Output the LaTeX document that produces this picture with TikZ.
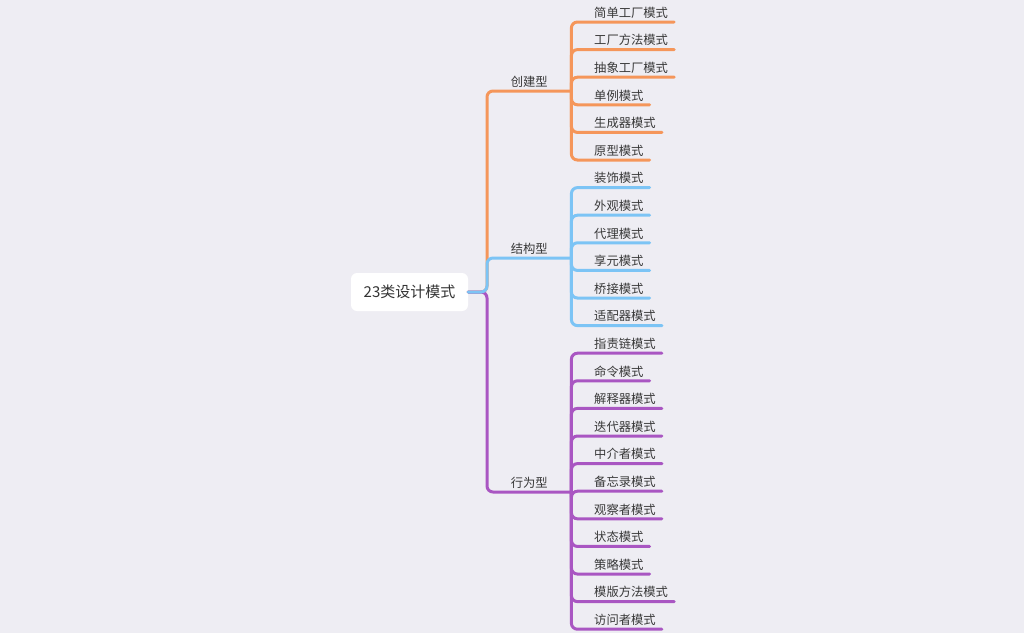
\documentclass[tikz,border=0pt]{standalone}
\usepackage{fontspec}
\setmainfont{Noto Sans CJK SC}
\begin{document}
\begin{tikzpicture}[x=1pt,y=-1pt,
  txt/.style={text=black!78, font=\fontsize{12.3}{14}\selectfont},
  leaf/.style={txt, anchor=south west, inner xsep=6pt, inner ysep=3.5pt},
  cat/.style={txt, anchor=south west, minimum width=84pt, inner xsep=0pt, inner ysep=3.5pt},
  wire/.style={line width=3pt, line cap=round, rounded corners=6pt},
  orangeW/.style={wire, draw=cOrange},
  blueW/.style={wire, draw=cBlue},
  purpleW/.style={wire, draw=cPurple}]
\definecolor{cBg}{HTML}{EEEDF3}
\definecolor{cOrange}{HTML}{F5965A}
\definecolor{cBlue}{HTML}{7CC4F5}
\definecolor{cPurple}{HTML}{A956C2}
\fill[cBg] (0,0) rectangle (1024,633);
\useasboundingbox (0,0) rectangle (1024,633);

% root
\node[fill=white, rounded corners=6pt, minimum width=117pt, minimum height=38pt,
      text=black!80, font=\fontsize{15}{18}\selectfont] (root) at (409.5,292) {23类设计模式};
\coordinate (trunk) at (487,292);

% categories
\node[cat] (c1) at (487,91) {创建型};
\node[cat] (c2) at (487,258) {结构型};
\node[cat] (c3) at (487,492) {行为型};

\draw[orangeW] (root.east) -- (trunk) |- (c1.south east);
\draw[purpleW] (root.east) -- (trunk) |- (c3.south east);
\draw[blueW] (root.east) -- (trunk) |- (c2.south east);

% leaves
\foreach \t [count=\i] in {简单工厂模式,工厂方法模式,抽象工厂模式,单例模式,生成器模式,原型模式}{
  \node[leaf] (a\i) at (588,{22+27.6*(\i-1)}) {\t};
  \draw[orangeW] (c1.south east) |- (a\i.south west) -- (a\i.south east);
}
\foreach \t [count=\i] in {装饰模式,外观模式,代理模式,享元模式,桥接模式,适配器模式}{
  \node[leaf] (b\i) at (588,{187.6+27.6*(\i-1)}) {\t};
  \draw[blueW] (c2.south east) |- (b\i.south west) -- (b\i.south east);
}
\foreach \t [count=\i] in {指责链模式,命令模式,解释器模式,迭代器模式,中介者模式,备忘录模式,观察者模式,状态模式,策略模式,模版方法模式,访问者模式}{
  \node[leaf] (p\i) at (588,{353.2+27.6*(\i-1)}) {\t};
  \draw[purpleW] (c3.south east) |- (p\i.south west) -- (p\i.south east);
}
\end{tikzpicture}
\end{document}
